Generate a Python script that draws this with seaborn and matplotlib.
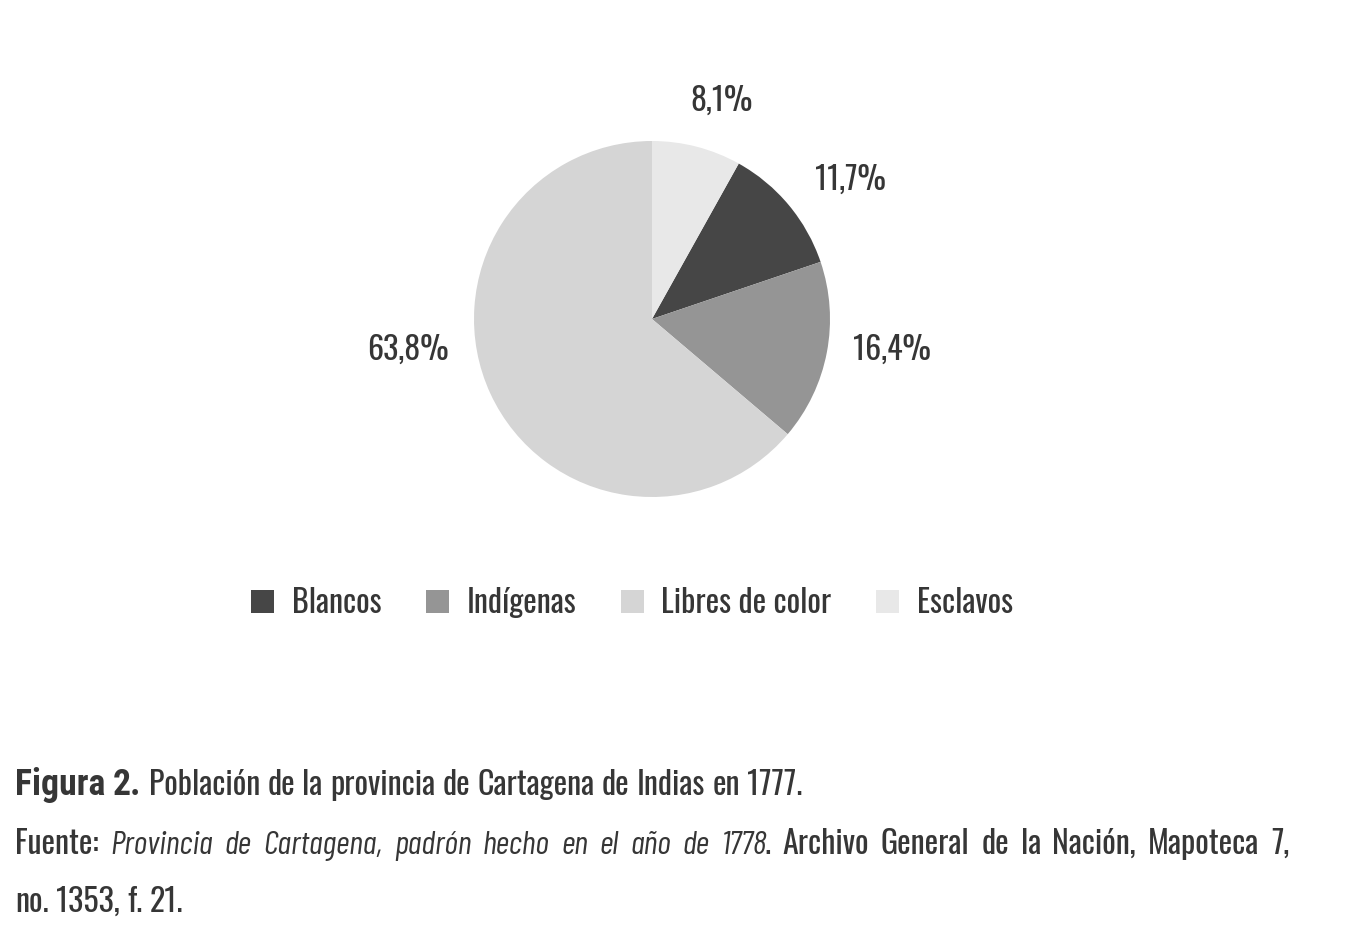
import matplotlib
matplotlib.use('Agg')
import matplotlib.pyplot as plt
import seaborn as sns
from matplotlib.patches import Patch

# Población de la provincia de Cartagena de Indias, 1777 (porcentajes)
categories = ['Blancos', 'Indígenas', 'Libres de color', 'Esclavos']
shares = [11.7, 16.4, 63.8, 8.1]
pct_labels = ['11,7%', '16,4%', '63,8%', '8,1%']
colors = ['#464646', '#959595', '#d5d5d5', '#e8e8e8']

caption_lines = [
    [('Figura 2.', 'bold'), (' Población de la provincia de Cartagena de Indias en 1777.', 'normal')],
    [('Fuente: ', 'normal'),
     ('Provincia de Cartagena, padrón hecho en el año de 1778', 'italic'),
     ('. Archivo General de la Nación, Mapoteca 7,', 'normal')],
    [('no. 1353, f. 21.', 'normal')],
]

sns.set_theme(style='white')
MAIN = ['Oswald', 'Roboto Condensed', 'DejaVu Sans']
ALT = ['Roboto Condensed', 'DejaVu Sans']
ITAL = ['Barlow Condensed', 'Roboto Condensed', 'DejaVu Sans']
plt.rcParams['font.family'] = MAIN
TEXT = '#363636'
FS = 23

W, H = 1366, 927
fig = plt.figure(figsize=(W / 100, H / 100), dpi=100)

# pie axes: centre and radius in pixels
cx, cy, r = 652, 319, 178
ax = fig.add_axes([(cx - r) / W, (H - cy - r) / H, 2 * r / W, 2 * r / H])
start = 90 - shares[-1] * 3.6
wedges, _ = ax.pie(shares, colors=colors, startangle=start, counterclock=False,
                   radius=1, wedgeprops=dict(linewidth=0))
ax.set_xlim(-1, 1)
ax.set_ylim(-1, 1)
ax.axis('off')

# label anchors (pixel centre x, baseline y) as Excel placed them
label_pos = [(850, 190), (892, 360), (408, 360), (722, 111)]
for lab, (px, py) in zip(pct_labels, label_pos):
    ax.text((px - cx) / r, (cy - py) / r, lab, ha='center', va='baseline',
            fontsize=FS, color=TEXT)

handles = [Patch(facecolor=c, edgecolor='none') for c in colors]
fig.legend(handles, categories, loc='center', bbox_to_anchor=(632 / W, 1 - 603 / H),
           ncol=4, frameon=False, fontsize=FS, handlelength=0.72, handleheight=0.72,
           handletextpad=0.55, columnspacing=1.4, labelcolor=TEXT)

# caption, drawn word by word so mixed styles and justification work
fig.canvas.draw()
renderer = fig.canvas.get_renderer()


def text_kw(style):
    if style == 'italic':
        return dict(family=ITAL, fontstyle='italic', fontweight=400, fontsize=FS * 1.04)
    if style == 'bold':
        return dict(family=ALT, fontweight=700, fontsize=FS * 1.12)
    return dict(family=MAIN, fontsize=FS)


def word_width(txt, style):
    t = fig.text(0, 0, txt, **text_kw(style))
    w = t.get_window_extent(renderer).width
    t.remove()
    return w


def draw_line(runs, x0, baseline, justify_to=None):
    words = []  # (text, style, joined_to_previous)
    prev_space = True
    for txt, style in runs:
        parts = txt.split(' ')
        for i, p in enumerate(parts):
            if p == '':
                continue
            joined = (i == 0 and not prev_space and not txt.startswith(' ') and len(words) > 0)
            words.append((p, style, joined))
        prev_space = txt.endswith(' ')
    widths = [word_width(w, s) for w, s, _ in words]
    n_gaps = sum(1 for w in words[1:] if not w[2])
    space = word_width('a a', 'normal') - word_width('aa', 'normal')
    if justify_to is not None and n_gaps:
        space = (justify_to - x0 - sum(widths)) / n_gaps
    x = x0
    for i, ((w, s, joined), wd) in enumerate(zip(words, widths)):
        if i > 0 and not joined:
            x += space
        elif joined:
            x -= 2  # italic run leaves a little overhang in its box
        fig.text(x / W, 1 - baseline / H, w, color=TEXT, va='baseline', **text_kw(s))
        x += wd


draw_line(caption_lines[0], 15, 795)
draw_line(caption_lines[1], 15, 854, justify_to=1291)
draw_line(caption_lines[2], 15, 912)

fig.savefig('out.png', dpi=100, facecolor='white')
